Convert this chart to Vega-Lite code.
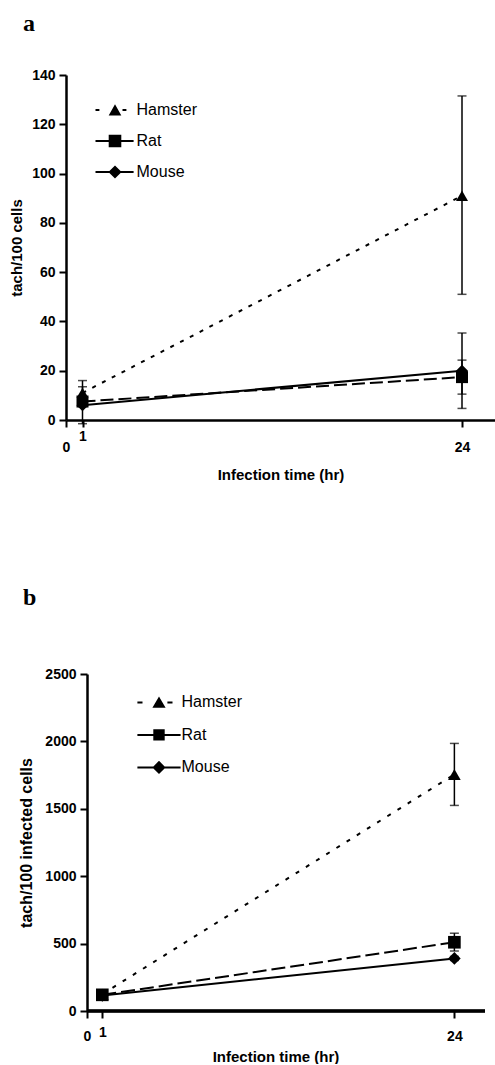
{
  "$schema": "https://vega.github.io/schema/vega-lite/v6.json",
  "background": "white",
  "padding": {"left": 9, "top": 12, "right": 0, "bottom": 0},
  "config": {
    "view": {"stroke": null},
    "font": "Liberation Sans",
    "axis": {
      "grid": false,
      "domainColor": "black",
      "domainWidth": 2.5,
      "tickColor": "black",
      "tickWidth": 2,
      "tickSize": 7,
      "labelFont": "Liberation Sans",
      "labelFontWeight": "bold",
      "labelFontSize": 14,
      "labelColor": "black",
      "labelFlush": false,
      "labelOverlap": false,
      "format": "d",
      "titleFont": "Liberation Sans",
      "titleFontWeight": "bold",
      "titleFontSize": 15,
      "titleColor": "black"
    }
  },
  "datasets": {
    "a": [
      {"time": 1, "species": "Hamster", "mean": 11, "lo": 6, "hi": 16},
      {"time": 24, "species": "Hamster", "mean": 91, "lo": 51, "hi": 131.5},
      {"time": 1, "species": "Rat", "mean": 7.5, "lo": 5.5, "hi": 9.5},
      {"time": 24, "species": "Rat", "mean": 17.4, "lo": 10.5, "hi": 24.3},
      {"time": 1, "species": "Mouse", "mean": 6, "lo": -1.5, "hi": 13.5},
      {"time": 24, "species": "Mouse", "mean": 20, "lo": 4.7, "hi": 35.3}
    ],
    "b": [
      {"time": 1, "species": "Hamster", "mean": 125, "lo": 110, "hi": 140},
      {"time": 24, "species": "Hamster", "mean": 1755, "lo": 1525, "hi": 1985},
      {"time": 1, "species": "Rat", "mean": 120, "lo": 105, "hi": 135},
      {"time": 24, "species": "Rat", "mean": 510, "lo": 445, "hi": 577},
      {"time": 1, "species": "Mouse", "mean": 115, "lo": 100, "hi": 130},
      {"time": 24, "species": "Mouse", "mean": 390, "lo": 375, "hi": 405}
    ]
  },
  "columns": 1,
  "spacing": 104,
  "resolve": {
    "scale": {"x": "independent", "y": "independent", "shape": "independent"},
    "legend": {"shape": "independent"}
  },
  "concat": [
    {
      "width": 429,
      "height": 345,
      "title": {"text": "a", "anchor": "start", "frame": "group", "dx": -43, "offset": 13, "baseline": "alphabetic", "font": "Liberation Serif", "fontSize": 24, "fontWeight": "bold", "color": "black"},
      "data": {"name": "a"},
      "resolve": {"scale": {"shape": "independent"}, "legend": {"shape": "independent"}},
      "encoding": {
        "x": {"field": "time", "type": "quantitative", "scale": {"domain": [0, 26], "nice": false}, "title": "Infection time (hr)",
          "axis": {"values": [0, 1, 24], "labelPadding": {"condition": {"test": "datum.value == 1", "value": 2}, "value": 13}, "titlePadding": 13}},
        "y": {"field": "mean", "type": "quantitative", "scale": {"domain": [0, 140], "nice": false}, "title": "tach/100 cells",
          "axis": {"values": [0, 20, 40, 60, 80, 100, 120, 140], "labelPadding": 4, "titlePadding": 7}}
      },
      "layer": [
        {
          "transform": [{"filter": "datum.species === 'Hamster'"}],
          "mark": {"type": "line", "strokeWidth": 2, "color": "black", "strokeDash": [4, 7]}
        },
        {
          "transform": [{"filter": "datum.species === 'Rat'"}],
          "mark": {"type": "line", "strokeWidth": 2, "color": "black", "strokeDash": [13, 5]}
        },
        {
          "transform": [{"filter": "datum.species === 'Mouse'"}],
          "mark": {"type": "line", "strokeWidth": 2, "color": "black"}
        },
        {
          "mark": {"type": "rule", "strokeWidth": 1.5, "color": "black"},
          "encoding": {"y": {"field": "lo", "type": "quantitative", "title": "tach/100 cells"}, "y2": {"field": "hi"}}
        },
        {
          "mark": {"type": "tick", "orient": "horizontal", "size": 9, "thickness": 1.5, "color": "black"},
          "encoding": {"y": {"field": "lo", "type": "quantitative", "title": "tach/100 cells"}}
        },
        {
          "mark": {"type": "tick", "orient": "horizontal", "size": 9, "thickness": 1.5, "color": "black"},
          "encoding": {"y": {"field": "hi", "type": "quantitative", "title": "tach/100 cells"}}
        },
        {
          "mark": {"type": "point", "filled": true, "size": 144, "opacity": 1, "color": "black"},
          "encoding": {
            "shape": {"field": "species", "type": "nominal", "scale": {"domain": ["Hamster", "Rat", "Mouse"], "range": ["triangle-up", "square", "diamond"]}, "legend": null}
          }
        },
        {
          "transform": [{"filter": "false"}],
          "mark": {"type": "point", "filled": true, "size": 144, "opacity": 1, "color": "black"},
          "encoding": {
            "shape": {"field": "species", "type": "nominal",
              "scale": {"domain": ["Hamster", "Rat", "Mouse"], "range": [
                "M-3.25,-0.17H-2.6V0.17H-3.25ZM1.25,-0.17H1.9V0.17H1.25ZM-1.05,0.9L0,-0.95L1.05,0.9Z",
                "M-3.25,-0.17H3.1V0.17H-3.25ZM-1.05,-1.05H1.05V1.05H-1.05Z",
                "M-3.25,-0.17H3.1V0.17H-3.25ZM0,-1.1L1.1,0L0,1.1L-1.1,0Z"]},
              "legend": {"title": null, "orient": "none", "legendX": 41, "legendY": 27, "padding": 0, "symbolSize": 144, "symbolStrokeWidth": 0, "symbolFillColor": "black", "symbolStrokeColor": "black", "symbolOpacity": 1,
                "labelFont": "Liberation Sans", "labelFontSize": 16, "labelColor": "black", "labelOffset": 13.5, "rowPadding": 15}}
          }
        }
      ]
    },
    {
      "width": 419,
      "height": 337,
      "title": {"text": "b", "anchor": "start", "frame": "group", "dx": -43, "offset": 38, "baseline": "alphabetic", "font": "Liberation Serif", "fontSize": 24, "fontWeight": "bold", "color": "black"},
      "data": {"name": "b"},
      "resolve": {"scale": {"shape": "independent"}, "legend": {"shape": "independent"}},
      "encoding": {
        "x": {"field": "time", "type": "quantitative", "scale": {"domain": [-1.372, 26], "nice": false, "zero": false}, "title": "Infection time (hr)",
          "axis": {"values": [0, 1, 24], "domain": false, "labelPadding": {"condition": {"test": "datum.value == 1", "value": 7}, "value": 11}, "titlePadding": 6}},
        "y": {"field": "mean", "type": "quantitative", "scale": {"domain": [0, 2500], "nice": false}, "title": "tach/100 infected cells",
          "axis": {"values": [0, 500, 1000, 1500, 2000, 2500], "offset": -21, "labelPadding": 4, "titlePadding": 10, "titleFontSize": 16}}
      },
      "layer": [
        {
          "mark": {"type": "rule", "strokeWidth": 2.5, "color": "black"},
          "encoding": {"x": {"datum": 0}, "x2": {"datum": 26}, "y": {"datum": 0}}
        },
        {
          "transform": [{"filter": "datum.species === 'Hamster'"}],
          "mark": {"type": "line", "strokeWidth": 2, "color": "black", "strokeDash": [4, 8]}
        },
        {
          "transform": [{"filter": "datum.species === 'Rat'"}],
          "mark": {"type": "line", "strokeWidth": 2, "color": "black", "strokeDash": [14, 5]}
        },
        {
          "transform": [{"filter": "datum.species === 'Mouse'"}],
          "mark": {"type": "line", "strokeWidth": 2, "color": "black"}
        },
        {
          "mark": {"type": "rule", "strokeWidth": 1.5, "color": "black"},
          "encoding": {"y": {"field": "lo", "type": "quantitative", "title": "tach/100 infected cells"}, "y2": {"field": "hi"}}
        },
        {
          "mark": {"type": "tick", "orient": "horizontal", "size": 9, "thickness": 1.5, "color": "black"},
          "encoding": {"y": {"field": "lo", "type": "quantitative", "title": "tach/100 infected cells"}}
        },
        {
          "mark": {"type": "tick", "orient": "horizontal", "size": 9, "thickness": 1.5, "color": "black"},
          "encoding": {"y": {"field": "hi", "type": "quantitative", "title": "tach/100 infected cells"}}
        },
        {
          "mark": {"type": "point", "filled": true, "size": 160, "opacity": 1, "color": "black"},
          "encoding": {
            "shape": {"field": "species", "type": "nominal", "scale": {"domain": ["Hamster", "Rat", "Mouse"], "range": ["triangle-up", "square", "diamond"]}, "legend": null}
          }
        },
        {
          "transform": [{"filter": "false"}],
          "mark": {"type": "point", "filled": true, "size": 144, "opacity": 1, "color": "black"},
          "encoding": {
            "shape": {"field": "species", "type": "nominal",
              "scale": {"domain": ["Hamster", "Rat", "Mouse"], "range": [
                "M-3.6,-0.17H-2.75V0.17H-3.6ZM1.4,-0.17H2.25V0.17H1.4ZM-1.1,0.9L0,-1L1.1,0.9Z",
                "M-3.6,-0.17H3.6V0.17H-3.6ZM-0.95,-0.95H0.95V0.95H-0.95Z",
                "M-3.6,-0.17H3.6V0.17H-3.6ZM0,-1.1L1.1,0L0,1.1L-1.1,0Z"]},
              "legend": {"title": null, "orient": "none", "legendX": 85, "legendY": 20.4, "padding": 0, "symbolSize": 144, "symbolStrokeWidth": 0, "symbolFillColor": "black", "symbolStrokeColor": "black", "symbolOpacity": 1,
                "labelFont": "Liberation Sans", "labelFontSize": 16, "labelColor": "black", "labelOffset": 14.5, "rowPadding": 16.5}}
          }
        }
      ]
    }
  ]
}
